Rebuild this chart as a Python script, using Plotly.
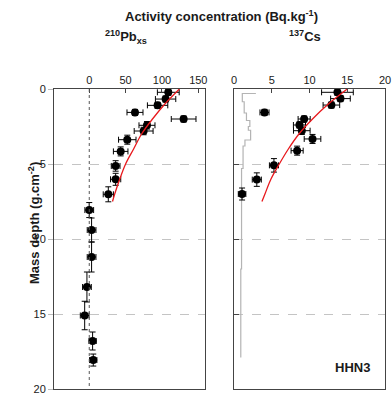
import plotly.graph_objects as go

# ---- 210Pb_xs data ----
pb_depth = [0.22, 0.67, 1.09, 1.56, 2.0, 2.42, 2.8, 3.38, 4.16, 5.13, 6.02, 7.02,
            8.07, 9.4, 11.2, 13.2, 15.1, 16.8, 18.07]
pb_val = [108.7, 105, 94, 62.9, 129.8, 79.4, 74.8, 52.3, 43.2, 36.3, 36.3, 26.2,
          0, 3.2, 3.2, -3.2, -6.3, 4.6, 5.5]
pb_err = [15, 14, 14, 11, 17, 11, 13, 12, 10, 6, 7, 7, 6, 6, 6, 6, 6, 5, 5]
pb_derr = [0.2, 0.2, 0.2, 0.2, 0.2, 0.25, 0.25, 0.3, 0.3, 0.35, 0.4, 0.5,
           0.5, 0.8, 1.0, 1.0, 0.95, 0.6, 0.4]
pb_fit_depth = [0, 1, 2, 3, 4, 5, 6, 7, 7.5]
pb_fit_val = [124, 104, 87, 72, 61, 50, 42, 35, 32]

# ---- 137Cs data ----
cs_depth = [0.22, 0.64, 1.07, 1.56, 2.0, 2.4, 2.78, 3.33, 4.11, 5.09, 6.04, 7.0]
cs_val = [13.7, 14.1, 12.9, 4.04, 9.29, 8.67, 8.98, 10.4, 8.36, 5.29, 3.02, 1.07]
cs_err = [2.1, 1.3, 1.1, 0.6, 0.8, 0.8, 1.1, 1.1, 0.8, 0.6, 0.6, 0.5]
cs_derr = [0.2, 0.2, 0.2, 0.2, 0.2, 0.2, 0.25, 0.3, 0.3, 0.45, 0.45, 0.4]
cs_fit_depth = [0, 1, 2, 3, 4, 5, 6, 7, 7.5]
cs_fit_val = [15, 12.5, 10.4, 8.6, 7.2, 6.0, 4.9, 4.1, 3.7]

# grey step profile in the 137Cs panel
prof_val = [2.9, 1.1, 1.35, 1.65, 2.1, 1.9, 2.2, 1.45, 1.2, 1.0, 0.9, 0.9]
prof_depth = [0.3, 0.3, 0.85, 1.6, 2.1, 2.5, 2.75, 3.4, 3.8, 5.3, 12, 17.9]

depth_ticks = [0, 5, 10, 15, 20]
pb_ticks = [0, 50, 100, 150]
cs_ticks = [0, 5, 10, 15, 20]

W, H = 392, 393
def px(x):
    return x / W
def py(y):
    return 1 - y / H

FONT = "Liberation Sans, Arial, sans-serif"
AX = "#444444"
TXT = "#1a1a1a"

fig = go.Figure()

marker = dict(color="black", size=8)
fig.add_trace(go.Scatter(
    x=pb_val, y=pb_depth, mode="markers", marker=marker,
    error_x=dict(type="data", array=pb_err, color="black", thickness=1, width=3),
    error_y=dict(type="data", array=pb_derr, color="black", thickness=1, width=3),
    xaxis="x", yaxis="y", showlegend=False))
fig.add_trace(go.Scatter(
    x=pb_fit_val, y=pb_fit_depth, mode="lines", line=dict(color="#e8181c", width=1.3, shape="spline"),
    xaxis="x", yaxis="y", showlegend=False))

fig.add_trace(go.Scatter(
    x=prof_val, y=prof_depth, mode="lines", line=dict(color="#b4b4b4", width=1.2, shape="vh"),
    xaxis="x2", yaxis="y2", showlegend=False))
fig.add_trace(go.Scatter(
    x=cs_val, y=cs_depth, mode="markers", marker=marker,
    error_x=dict(type="data", array=cs_err, color="black", thickness=1, width=3),
    error_y=dict(type="data", array=cs_derr, color="black", thickness=1, width=3),
    xaxis="x2", yaxis="y2", showlegend=False))
fig.add_trace(go.Scatter(
    x=cs_fit_val, y=cs_fit_depth, mode="lines", line=dict(color="#e8181c", width=1.3, shape="spline"),
    xaxis="x2", yaxis="y2", showlegend=False))

ydom = [py(389), py(89)]
common_x = dict(side="top", showline=True, linecolor=AX, linewidth=1, mirror=True,
                ticks="inside", ticklen=4, tickcolor=AX, showgrid=False, zeroline=False,
                automargin=False, ticklabeloverflow="allow",
                tickfont=dict(family=FONT, size=11, color=TXT))
common_y = dict(range=[20, 0], showline=True, linecolor=AX, linewidth=1, mirror=True,
                showgrid=True, gridcolor="#c4c4c4", griddash="dash", gridwidth=1,
                zeroline=False, tickvals=depth_ticks, domain=ydom, automargin=False,
                ticklabeloverflow="allow",
                tickfont=dict(family=FONT, size=11, color=TXT))

def ann(text, x, y, size=13, angle=0):
    return dict(text=text, x=px(x), y=py(y), xref="paper", yref="paper",
                xanchor="center", yanchor="middle", showarrow=False, textangle=angle,
                font=dict(family=FONT, size=size, color=TXT))

fig.update_layout(
    width=W, height=H, margin=dict(l=0, r=0, t=0, b=0, pad=0),
    plot_bgcolor="white", paper_bgcolor="white",
    font=dict(family=FONT, color=TXT),
    xaxis=dict(domain=[px(54), px(205)], range=[-48.5, 159.2], tickvals=pb_ticks,
               anchor="y", **common_x),
    yaxis=dict(anchor="x", ticks="outside", ticklen=5, tickcolor="#bbbbbb", **common_y),
    xaxis2=dict(domain=[px(234), px(385)], range=[0, 20], tickvals=cs_ticks,
                anchor="y2", **common_x),
    yaxis2=dict(anchor="x2", ticks="inside", ticklen=5, tickcolor=AX, showticklabels=False,
                **common_y),
    shapes=[dict(type="line", xref="x", yref="y", x0=0, x1=0, y0=0, y1=20,
                 line=dict(color="#555555", width=1, dash="dot"))],
    annotations=[
        ann("<b>Activity concentration (Bq.kg<sup>-1</sup>)</b>", 221, 16),
        ann("<b><sup>210</sup>Pb<sub>xs</sub></b>", 126, 37),
        ann("<b><sup>137</sup>Cs</b>", 305, 36),
        ann("<b>Mass depth (g.cm<sup>-2</sup>)</b>", 34, 223, angle=-90),
        ann("<b>HHN3</b>", 352, 367),
    ],
)

fig.write_html(
    "out.html",
    config={"displayModeBar": False},
    post_script=(
        "document.documentElement.style.margin='0';"
        "document.body.style.margin='0';document.body.style.padding='0';"
        "var g=document.getElementById('{plot_id}');"
        "g.style.position='absolute';g.style.top='0px';g.style.left='0px';"
    ),
)
